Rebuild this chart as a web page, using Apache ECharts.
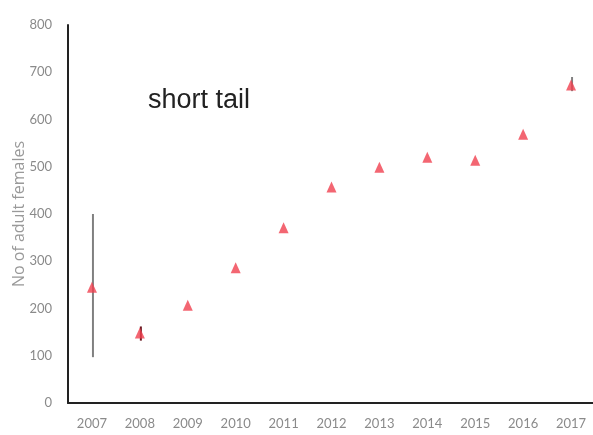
<!DOCTYPE html>
<html>
<head>
<meta charset="utf-8">
<script src="https://cdn.jsdelivr.net/npm/echarts@6/dist/echarts.min.js"></script>
<style>
  html, body { margin: 0; padding: 0; background: #fff; }
  #chart { width: 593px; height: 435px; }
</style>
</head>
<body>
<div id="chart"></div>
<script>
// Survey years and the estimated number of adult females
const years = ['2007', '2008', '2009', '2010', '2011', '2012', '2013', '2014', '2015', '2016', '2017'];
const females = [245, 148, 207, 286, 371, 457, 499, 520, 514, 569, 673];
// Lower / upper bounds of the uncertainty bars (null where no bar is shown)
const lowerBound = [97, 132, null, null, null, null, null, null, null, null, 660];
const upperBound = [400, 162, null, null, null, null, null, null, null, null, 690];
const yTicks = [0, 100, 200, 300, 400, 500, 600, 700, 800];

const barData = years.map((y, i) => [i, lowerBound[i], upperBound[i]])
  .filter(d => d[1] !== null);

const chart = echarts.init(document.getElementById('chart'));
chart.setOption({
  animation: false,
  backgroundColor: '#ffffff',
  grid: { left: 68, top: 25, bottom: 32, right: -2, containLabel: false, outerBoundsMode: 'none' },
  title: {
    text: 'short tail',
    left: 143, top: 82,
    textStyle: { fontFamily: 'Liberation Sans', fontSize: 27, fontWeight: 'normal', color: '#222' }
  },
  xAxis: {
    type: 'category',
    data: years,
    boundaryGap: true,
    axisLine: { lineStyle: { color: '#222', width: 2 } },
    axisTick: { show: false },
    axisLabel: { color: '#8a8a8a', fontFamily: 'Lato', fontSize: 13, margin: 14 }
  },
  yAxis: {
    type: 'value',
    min: yTicks[0], max: yTicks[yTicks.length - 1], interval: 100,
    name: 'No of adult females',
    nameLocation: 'middle',
    nameGap: 41,
    nameMoveOverlap: false,
    nameTextStyle: { color: '#999999', fontFamily: 'Open Sans', fontSize: 16 },
    axisLine: { show: true, lineStyle: { color: '#222', width: 2 } },
    axisTick: { show: false },
    splitLine: { show: false },
    axisLabel: { color: '#8a8a8a', fontFamily: 'Lato', fontSize: 13, margin: 16 }
  },
  series: [
    {
      type: 'custom',
      name: 'range',
      data: barData,
      renderItem: function (params, api) {
        const x = api.value(0);
        const lo = api.coord([x, api.value(1)]);
        const hi = api.coord([x, api.value(2)]);
        const dark = api.value(0) === 1;
        return {
          type: 'line',
          shape: { x1: lo[0] + 1, y1: lo[1], x2: hi[0] + 1, y2: hi[1] },
          style: { stroke: dark ? '#6a1a22' : '#808080', lineWidth: 2 }
        };
      },
      z: 1
    },
    {
      type: 'scatter',
      name: 'females',
      data: females,
      symbol: 'triangle',
      symbolSize: [10, 11],
      itemStyle: { color: '#f0404f' },
      z: 2
    }
  ]
});
</script>
</body>
</html>
